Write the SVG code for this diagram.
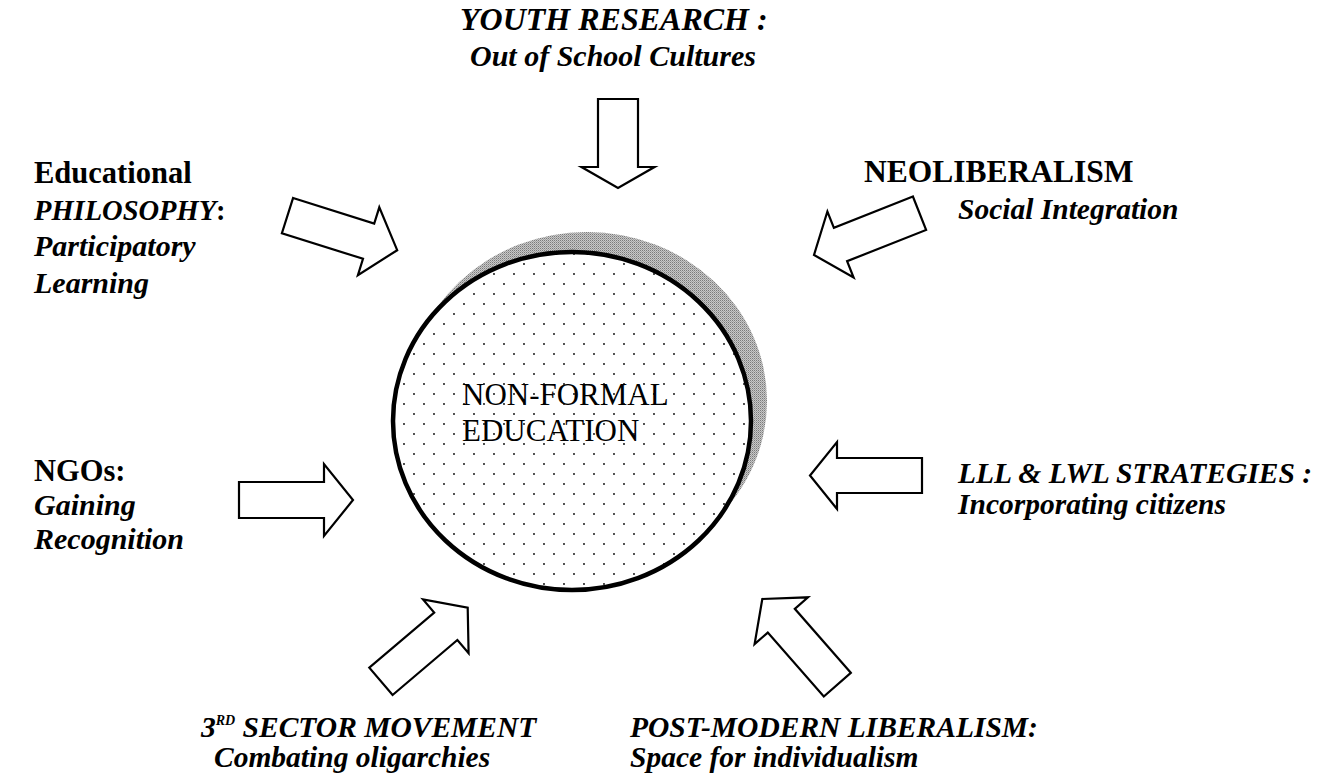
<svg xmlns="http://www.w3.org/2000/svg" width="1331" height="782" viewBox="0 0 1331 782">
<defs>
<pattern id="dots" width="20" height="20" patternUnits="userSpaceOnUse">
<rect width="20" height="20" fill="#fff"/>
<circle cx="4" cy="4" r="0.9" fill="#000"/>
<circle cx="14" cy="14" r="0.9" fill="#000"/>
</pattern>
<pattern id="stipple" width="2" height="2" patternUnits="userSpaceOnUse">
<rect width="2" height="2" fill="#c8c8c8"/>
<rect width="1" height="1" fill="#7a7a7a"/>
<rect x="1" y="1" width="1" height="1" fill="#a0a0a0"/>
</pattern>
</defs>
<style>
.t{font-family:"Liberation Serif","Times New Roman",serif;fill:#000}
.b{font-weight:bold}
.bi{font-weight:bold;font-style:italic}
.arr{fill:#fff;stroke:#000;stroke-width:2.2;stroke-linejoin:miter}
</style>
<rect width="1331" height="782" fill="#fff"/>

<g id="center">
<ellipse cx="587" cy="401" rx="180" ry="169" fill="url(#stipple)"/>
<ellipse cx="572" cy="421" rx="179" ry="169" fill="url(#dots)" stroke="#000" stroke-width="4.5"/>
<text class="t" font-size="31" x="462" y="405">NON-FORMAL</text>
<text class="t" font-size="31" x="462" y="441">EDUCATION</text>
</g>

<g id="connectors">
<polygon class="arr" points="598,99 598,167 581.5,167 618,188 654.5,167 638,167 638,99"/>
<polygon class="arr" points="293.1,198 374.2,223.6 379.3,207.3 397.2,250.2 357.9,275.1 363,258.8 281.9,233.2"/>
<polygon class="arr" points="912.9,196.5 833.9,227.8 827.4,211.5 814,255 853.6,277.5 847.1,261.2 926.1,229.9"/>
<polygon class="arr" points="239,482 324,482 324,464 353,500 324,536 324,518 239,518"/>
<polygon class="arr" points="922,458 837,458 837,442 810,475.5 837,509 837,493 922,493"/>
<polygon class="arr" points="392.6,695 457.4,640 468.6,653.1 467.7,607.7 423,599.5 434.2,612.6 369.3,667.6"/>
<polygon class="arr" points="850.8,672.8 794.8,608.8 808,597.3 762.3,599 754.6,644.1 767.8,632.6 823.8,696.5"/>
</g>

<g id="youth">
<text class="t bi" font-size="32" x="460" y="30">YOUTH RESEARCH :</text>
<text class="t bi" font-size="30" x="470" y="66">Out of School Cultures</text>
</g>

<g id="philosophy">
<text class="t b" font-size="30.5" x="34" y="183">Educational</text>
<text class="t bi" font-size="28.5" x="34" y="219.5">PHILOSOPHY<tspan font-style="normal">:</tspan></text>
<text class="t bi" font-size="30" x="34" y="256">Participatory</text>
<text class="t bi" font-size="30" x="34" y="293">Learning</text>
</g>

<g id="ngos">
<text class="t b" font-size="30.5" x="34" y="481">NGOs:</text>
<text class="t bi" font-size="30" x="34" y="515">Gaining</text>
<text class="t bi" font-size="30" x="34" y="549">Recognition</text>
</g>

<g id="neoliberalism">
<text class="t b" font-size="31.5" x="864" y="182">NEOLIBERALISM</text>
<text class="t bi" font-size="29.5" x="958" y="219">Social Integration</text>
</g>

<g id="lll">
<text class="t bi" font-size="29.5" x="958" y="483">LLL &amp; LWL STRATEGIES :</text>
<text class="t bi" font-size="29.5" x="958" y="514">Incorporating citizens</text>
</g>

<g id="third-sector">
<text class="t bi" font-size="29.5" x="201" y="737">3<tspan font-size="14" dy="-12">RD</tspan><tspan dy="12"> SECTOR MOVEMENT</tspan></text>
<text class="t bi" font-size="29.5" x="214" y="767">Combating oligarchies</text>
</g>

<g id="postmodern">
<text class="t bi" font-size="29.5" x="630" y="737">POST-MODERN LIBERALISM:</text>
<text class="t bi" font-size="29.5" x="630" y="767">Space for individualism</text>
</g>
</svg>
